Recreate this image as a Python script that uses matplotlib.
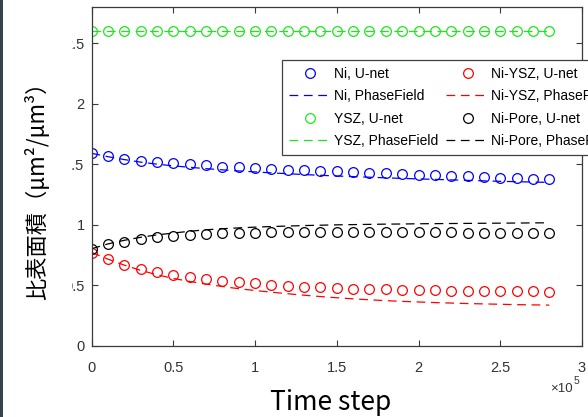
import matplotlib
matplotlib.use("Agg")
import matplotlib.pyplot as plt
from matplotlib.patches import Rectangle
from matplotlib.lines import Line2D

# Time steps at which the specific surface area was evaluated
time_step = [0, 10000, 20000, 30000, 40000, 50000, 60000, 70000, 80000, 90000,
             100000, 110000, 120000, 130000, 140000, 150000, 160000, 170000, 180000,
             190000, 200000, 210000, 220000, 230000, 240000, 250000, 260000, 270000,
             280000]

ni_unet = [1.590, 1.566, 1.544, 1.527, 1.519, 1.511, 1.498, 1.490, 1.479, 1.474,
           1.466, 1.460, 1.452, 1.449, 1.446, 1.441, 1.435, 1.429, 1.424, 1.419,
           1.414, 1.409, 1.404, 1.399, 1.394, 1.389, 1.384, 1.379, 1.375]
ni_pf = [1.590, 1.562, 1.538, 1.517, 1.500, 1.486, 1.474, 1.463, 1.453, 1.444,
         1.436, 1.428, 1.421, 1.414, 1.408, 1.402, 1.397, 1.392, 1.387, 1.382,
         1.378, 1.374, 1.370, 1.366, 1.362, 1.358, 1.355, 1.352, 1.349]

ysz_unet = [2.60] * 29
ysz_pf = [2.60] * 29

niysz_unet = [0.762, 0.713, 0.666, 0.630, 0.605, 0.583, 0.564, 0.547, 0.536, 0.523,
              0.514, 0.500, 0.492, 0.487, 0.481, 0.476, 0.470, 0.467, 0.465, 0.462,
              0.459, 0.457, 0.454, 0.453, 0.451, 0.450, 0.448, 0.447, 0.445]
niysz_pf = [0.770, 0.715, 0.665, 0.622, 0.585, 0.555, 0.530, 0.508, 0.488, 0.470,
            0.455, 0.441, 0.428, 0.416, 0.405, 0.395, 0.386, 0.378, 0.371, 0.365,
            0.360, 0.355, 0.351, 0.347, 0.344, 0.341, 0.338, 0.336, 0.334]

nipore_unet = [0.796, 0.839, 0.859, 0.878, 0.896, 0.906, 0.914, 0.921, 0.927, 0.931,
               0.934, 0.936, 0.937, 0.938, 0.938, 0.938, 0.938, 0.937, 0.937, 0.936,
               0.936, 0.935, 0.935, 0.934, 0.934, 0.933, 0.932, 0.932, 0.930]
nipore_pf = [0.800, 0.840, 0.870, 0.895, 0.915, 0.930, 0.945, 0.957, 0.966, 0.973,
             0.979, 0.984, 0.988, 0.992, 0.995, 0.998, 1.000, 1.002, 1.004, 1.005,
             1.007, 1.008, 1.009, 1.010, 1.011, 1.012, 1.013, 1.014, 1.015]

x_ticks = [0, 50000, 100000, 150000, 200000, 250000, 300000]
x_tick_labels = ["0", "0.5", "1", "1.5", "2", "2.5", "3"]
y_ticks = [0, 0.5, 1, 1.5, 2, 2.5]
y_tick_labels = ["0", "0.5", "1", "1.5", "2", "2.5"]

series = [
    ("Ni", ni_unet, ni_pf, "#0000ff"),
    ("YSZ", ysz_unet, ysz_pf, "#1ee61e"),
    ("Ni-YSZ", niysz_unet, niysz_pf, "#ff0000"),
    ("Ni-Pore", nipore_unet, nipore_pf, "#000000"),
]

W, H = 588, 417
fig = plt.figure(figsize=(W / 100, H / 100), dpi=100)
fig.patch.set_facecolor("white")

ax_l, ax_r, ax_t, ax_b = 91.5, 582, 7, 345.5
ax = fig.add_axes([ax_l / W, 1 - ax_b / H, (ax_r - ax_l) / W, (ax_b - ax_t) / H])

axis_gray = "#3a3a3a"
marker_kw = dict(marker="o", markersize=7, markerfacecolor="none",
                 markeredgewidth=0.9, linestyle="none")
dash_kw = dict(linestyle=(0, (7, 4.5)), linewidth=0.9)

handles = []
for name, unet, pf, color in series:
    ax.plot(time_step, pf, color=color, **dash_kw)
    ax.plot(time_step, unet, color=color, **marker_kw)
    handles.append(Line2D([], [], color=color, label=f"{name}, U-net", **marker_kw))
    handles.append(Line2D([], [], color=color, label=f"{name}, PhaseField", **dash_kw))

ax.set_xlim(0, 300000)
ax.set_ylim(0, 2.8)
ax.set_xticks(x_ticks)
ax.set_xticklabels(x_tick_labels)
ax.set_yticks(y_ticks)
ax.set_yticklabels(y_tick_labels)

for lab in ax.get_xticklabels() + ax.get_yticklabels():
    lab.set_family("Liberation Sans")
    lab.set_fontsize(10.5)
    lab.set_color("#333333")

ax.tick_params(direction="in", top=True, right=True, length=4, width=0.8,
               color=axis_gray)
ax.tick_params(axis="x", pad=11)
ax.tick_params(axis="y", pad=5)
for sp in ax.spines.values():
    sp.set_color(axis_gray)
    sp.set_linewidth(0.9)

# Legend laid out in two columns, anchored in figure pixels
leg = fig.legend(handles=handles, ncol=2, loc="upper left",
                 bbox_to_anchor=(282 / W, 1 - 60 / H), bbox_transform=fig.transFigure,
                 borderaxespad=0, frameon=True, fancybox=False, framealpha=1,
                 edgecolor="#404040", prop={"family": "Liberation Sans", "size": 10},
                 handlelength=3.1, handletextpad=0.15, columnspacing=0.55,
                 labelspacing=0.6, borderpad=0.5)
leg.get_frame().set_linewidth(0.9)

# White panel behind the y-axis title (covers the leftmost part of the tick labels)
fig.patches.append(Rectangle((3 / W, 1 - 360 / H), 69 / W, 345 / H,
                             transform=fig.transFigure, facecolor="white",
                             edgecolor="none", zorder=5))
# Dark frame edge on the left side
fig.patches.append(Rectangle((0, 0), 2.5 / W, 1, transform=fig.transFigure,
                             facecolor="#38424f", edgecolor="none", zorder=6))

fig.text(37 / W, 1 - 185 / H, "比表面積（μm²/μm³）", rotation=90,
         ha="center", va="center", fontsize=16, color="black",
         family=["Noto Sans CJK JP", "DejaVu Sans"], zorder=7)

fig.text(331 / W, 1 - 402 / H, "Time step", ha="center", va="center",
         fontsize=19, color="black", family=["Noto Sans CJK JP", "DejaVu Sans"])

fig.text(573 / W, 1 - 392 / H, "×10", ha="right", va="baseline",
         fontsize=9.5, color="#333333", family="Liberation Sans")
fig.text(573.5 / W, 1 - 384 / H, "5", ha="left", va="baseline",
         fontsize=7.5, color="#333333", family="Liberation Sans")

fig.savefig("out.png", dpi=100)
